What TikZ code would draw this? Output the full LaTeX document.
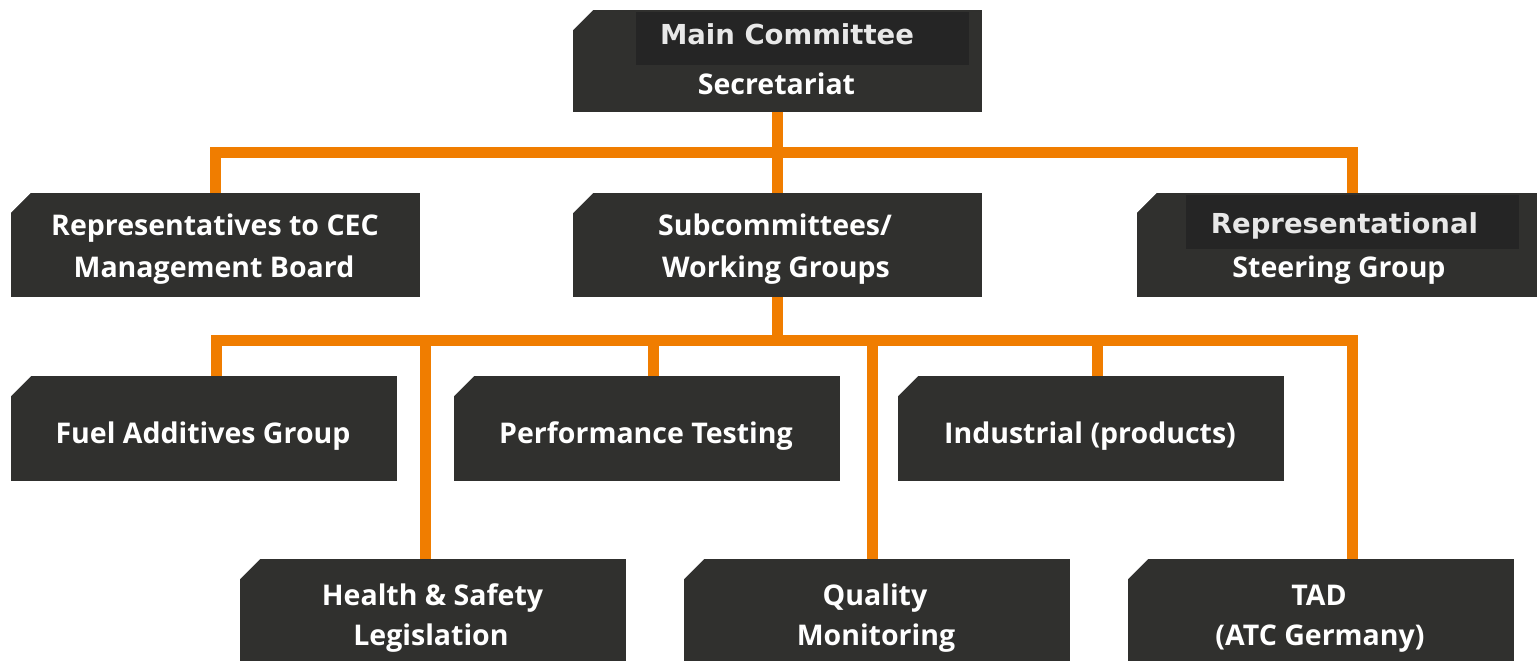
\documentclass[tikz,border=0pt]{standalone}
\usepackage{fontspec}
\setmainfont{Open Sans}
\newfontfamily\headfont{DejaVu Sans Bold}
\usetikzlibrary{backgrounds}

\definecolor{boxfill}{RGB}{48,48,46}
\definecolor{bandfill}{RGB}{37,37,37}
\definecolor{linkorange}{RGB}{240,125,0}
\definecolor{headtext}{RGB}{232,232,232}

\tikzset{
  orgbox/.style={fill=boxfill, inner sep=0pt, outer sep=0pt,
    path picture={\fill[white] (path picture bounding box.north west)
      -- ++(20pt,0pt) -- ++(-20pt,-20pt) -- cycle;}},
  wide/.style={minimum width=409pt, minimum height=104pt},
  narrow/.style={minimum width=386pt, minimum height=105pt},
  band/.style={fill=bandfill, inner sep=0pt, outer sep=0pt},
  headlabel/.style={text=headtext, inner sep=0pt, anchor=base,
    font=\headfont\fontsize{27.5}{34}\selectfont},
  boxlabel/.style={text=white, inner sep=0pt, anchor=base,
    font=\bfseries\fontsize{28.5}{42}\selectfont},
  link/.style={draw=linkorange, line width=11pt, line join=miter, line cap=butt}
}

\begin{document}
\begin{tikzpicture}[x=1pt, y=-1pt]
\useasboundingbox (0,0) rectangle (1537,661);
\clip (0,0) rectangle (1537,661);

% top level
\node[orgbox, minimum width=409pt, minimum height=102pt] (main) at (777.5,61) {};
\node[band, minimum width=333pt, minimum height=53pt] (mainband) at (802.5,38.5) {};
\node[headlabel] (maintitle) at (787,45) {Main Committee};
\node[boxlabel] (secretariat) at (776.5,94) {Secretariat};

% second level
\node[orgbox, wide] (cec) at (215,245) {};
\node[boxlabel] (cecA) at (215,235) {Representatives to CEC};
\node[boxlabel] (cecB) at (214,277) {Management Board};

\node[orgbox, wide] (sub) at (777.5,245) {};
\node[boxlabel] (subA) at (775,235) {Subcommittees/};
\node[boxlabel] (subB) at (776,277) {Working Groups};

\node[orgbox, wide] (steer) at (1341,245) {};
\node[band, minimum width=333pt, minimum height=54pt] (steerband) at (1352.5,222) {};
\node[headlabel] (steerA) at (1344.5,233) {Representational};
\node[boxlabel] (steerB) at (1339,277) {Steering Group};

% working groups, upper row
\node[orgbox, narrow] (fuel) at (204,428.5) {};
\node[boxlabel] (fuelT) at (203,443) {Fuel Additives Group};
\node[orgbox, narrow] (perf) at (647,428.5) {};
\node[boxlabel] (perfT) at (646,443) {Performance Testing};
\node[orgbox, narrow] (ind) at (1091,428.5) {};
\node[boxlabel] (indT) at (1090,443) {Industrial (products)};

% working groups, lower row
\node[orgbox, narrow] (hs) at (433,611.5) {};
\node[boxlabel] (hsA) at (432.5,605) {Health \& Safety};
\node[boxlabel] (hsB) at (431,645) {Legislation};
\node[orgbox, narrow] (qm) at (877,611.5) {};
\node[boxlabel] (qmA) at (875,605) {Quality};
\node[boxlabel] (qmB) at (876,645) {Monitoring};
\node[orgbox, narrow] (tad) at (1321,611.5) {};
\node[boxlabel] (tadA) at (1319,605) {TAD};
\node[boxlabel] (tadB) at (1320,645) {(ATC Germany)};

% bus corners and drop points
\coordinate (topL) at (215.5,152.5);
\coordinate (topR) at (1352,152.5);
\coordinate (midL) at (216,340);
\coordinate (midR) at (1352,340);
\coordinate (dHS) at (425.5,340);
\coordinate (dPerf) at (653,340);
\coordinate (dQM) at (872,340);
\coordinate (dInd) at (1097,340);

\begin{scope}[on background layer]
  \draw[link] (main.south) -- (main.south |- sub.north);
  \draw[link] (topL |- cec.north) -- (topL) -- (topR) -- (topR |- steer.north);
  \draw[link] (sub.south) -- (sub.south |- midL);
  \draw[link] (midL |- fuel.north) -- (midL) -- (midR) -- (midR |- tad.north);
  \draw[link] (dHS) -- (dHS |- hs.north);
  \draw[link] (dPerf) -- (dPerf |- perf.north);
  \draw[link] (dQM) -- (dQM |- qm.north);
  \draw[link] (dInd) -- (dInd |- ind.north);
\end{scope}
\end{tikzpicture}
\end{document}
